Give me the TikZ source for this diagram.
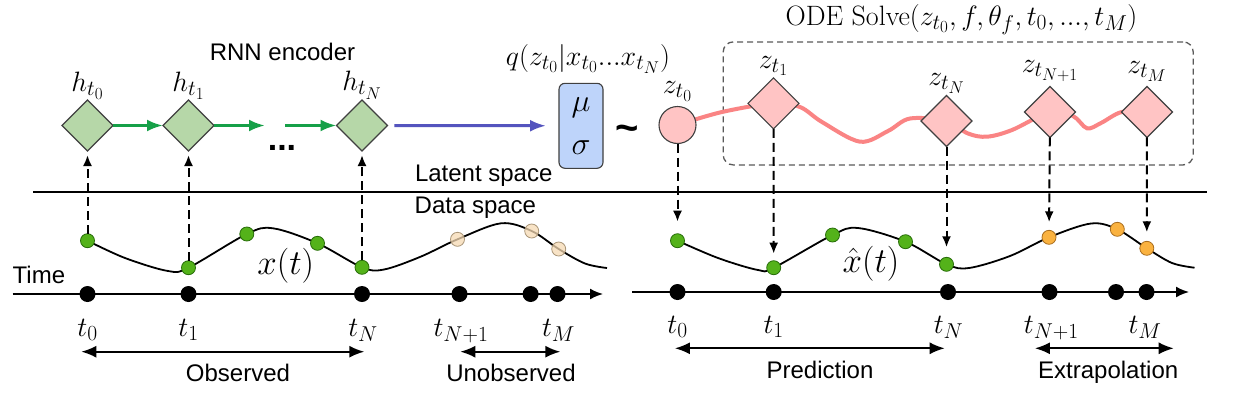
\RequirePackage{fix-cm}
\documentclass[tikz,border=0pt]{standalone}
\usepackage{fontspec}
\setsansfont{Liberation Sans}
\usetikzlibrary{shapes.geometric,arrows.meta}
\DeclareMathSizes{28}{28}{21.5}{17}
\DeclareMathSizes{35}{35}{26}{20}
\definecolor{hgreen}{RGB}{182,215,168}
\definecolor{zpink}{RGB}{255,196,196}
\definecolor{mboxc}{RGB}{190,212,250}
\definecolor{bordergray}{RGB}{64,64,64}
\definecolor{garr}{RGB}{22,160,72}
\definecolor{barr}{RGB}{84,84,190}
\definecolor{zline}{RGB}{250,132,132}
\definecolor{gdotc}{RGB}{84,178,26}
\definecolor{gdotb}{RGB}{40,110,10}
\definecolor{odotc}{RGB}{250,178,64}
\definecolor{odotb}{RGB}{170,110,30}
\definecolor{pdotc}{RGB}{246,218,180}
\definecolor{pdotb}{RGB}{170,150,120}
\definecolor{boxgray}{RGB}{90,90,90}
\begin{document}
\begin{tikzpicture}[x=1pt,y=-1pt,
  every node/.style={inner sep=0pt, outer sep=0pt},
  hdia/.style={diamond, aspect=1, minimum width=51pt, minimum height=51pt, fill=hgreen, draw=bordergray, line width=1.1pt},
  zdia/.style={diamond, aspect=1, minimum width=51pt, minimum height=51pt, fill=zpink, draw=bordergray, line width=1.1pt},
  zcirc/.style={circle, minimum size=37pt, fill=zpink, draw=bordergray, line width=1.1pt},
  mubox/.style={rectangle, rounded corners=6pt, minimum width=44pt, minimum height=85pt, fill=mboxc, draw=bordergray, line width=1.1pt, align=center, font=\fontsize{32}{43}\selectfont},
  gdot/.style={circle, minimum size=14pt, fill=gdotc, draw=gdotb, line width=0.8pt},
  pdot/.style={circle, minimum size=14pt, fill=pdotc, fill opacity=0.75, draw=pdotb, line width=0.8pt},
  odot/.style={circle, minimum size=14pt, fill=odotc, draw=odotb, line width=0.8pt},
  bdot/.style={circle, minimum size=16pt, fill=black},
  mlbl/.style={font=\fontsize{28}{32}\selectfont},
  biglbl/.style={font=\fontsize{35}{40}\selectfont},
  sflbl/.style={font=\fontsize{24}{28}\selectfont\sffamily},
  garrow/.style={draw=garr, line width=3pt, -{Latex[length=16pt,width=12pt]}},
  barrow/.style={draw=barr, line width=3pt, -{Latex[length=16pt,width=12pt]}},
  dasharrow/.style={draw=black, line width=2pt, dash pattern=on 9pt off 5pt, -{Latex[length=11pt,width=9pt]}},
  axisline/.style={draw=black, line width=1.8pt, -{Latex[length=13pt,width=11pt]}},
  spanarrow/.style={draw=black, line width=1.8pt, {Latex[length=15pt,width=12pt]}-{Latex[length=15pt,width=12pt]}},
  curveline/.style={draw=black, line width=1.8pt},
  zcurve/.style={draw=zline, line width=4pt},
  odebox/.style={rectangle, rounded corners=10pt, draw=boxgray, line width=1.3pt, dash pattern=on 6pt off 4pt, minimum width=470pt, minimum height=123pt}
]
\fill[white] (0,0) rectangle (1236,405);
\useasboundingbox (0,0) rectangle (1236,405);

% ---------- texts ----------
\node[sflbl, anchor=base] (rnn) at (282.5,60.7) {RNN encoder};
\node[sflbl, anchor=base west] (lat) at (415,181.7) {Latent space};
\node[sflbl, anchor=base west] (dat) at (414.7,213.3) {Data space};
\node[sflbl, anchor=base west] (time) at (12.7,283.3) {Time};

% ---------- latent / data separator ----------
\coordinate (ll) at (33,192);
\coordinate (lr) at (1207,192);
\draw[line width=1.8pt] (ll) -- (lr);

% ---------- encoder ----------
\node[hdia, label={[mlbl, inner sep=1pt]above:$h_{t_0}$}] (h0) at (87.5,125.5) {};
\node[hdia, label={[mlbl, inner sep=1pt]above:$h_{t_1}$}] (h1) at (188.5,125.5) {};
\node[hdia, label={[mlbl, inner sep=1pt]above:$h_{t_N}$}] (hN) at (362,125.5) {};
\coordinate (g1) at (265,125.5);
\coordinate (g2) at (285,125.5);
\draw[garrow] (h0) -- (h1);
\draw[garrow] (h1) -- (g1);
\draw[garrow] (g2) -- (hN);
\node[font=\fontsize{34}{40}\selectfont\sffamily\bfseries, anchor=base] (dots) at (282,150.7) {...};

% ---------- distribution ----------
\node[mubox] (mu) at (581,125.8) {$\mu$\\$\sigma$};
\draw[barrow, shorten <=7pt, shorten >=13pt] (hN) -- (mu);
\node[mlbl, anchor=base] (q) at (588,65) {$q(z_{t_0}|x_{t_0}...x_{t_N})$};
\node[font=\fontsize{40}{44}\selectfont\sffamily\bfseries, anchor=base] (tl) at (627.3,141) {\textasciitilde};

% ---------- ODE solve ----------
\node[odebox] (ode) at (958.2,103.4) {};
\node[mlbl, anchor=base] (odelbl) at (961.5,25) {ODE Solve$(z_{t_0},f,\theta_f,t_0,...,t_M)$};

\draw[zcurve] plot[smooth, tension=0.55] coordinates {(677.5,125) (722,112) (773.5,103.3) (800,107) (822,122) (860,141.7) (888,131) (910,118.5) (946,121) (968,133.5) (987,136.7) (1012,130) (1050,112) (1073,116) (1087,128.3) (1101,123) (1121.7,112) (1147,112)};

\node[zcirc, label={[mlbl, inner sep=1pt, label distance=4pt]above:$z_{t_0}$}] (z0) at (677.5,125) {};
\node[zdia, label={[mlbl, inner sep=1pt, label distance=1pt]above:$z_{t_1}$}] (z1) at (773.5,103.3) {};
\node[zdia, label={[mlbl, inner sep=1pt, label distance=1pt]above:$z_{t_N}$}] (zN) at (946.5,121) {};
\node[zdia, label={[mlbl, inner sep=1pt, label distance=4pt]above:$z_{t_{N+1}}$}] (zN1) at (1050,112) {};
\node[zdia, label={[mlbl, inner sep=1pt, label distance=4pt]above:$z_{t_M}$}] (zM) at (1147,112) {};

% ---------- left data panel ----------
\draw[curveline] plot[smooth, tension=0.55] coordinates {(87.5,240.7) (125,258) (168,271) (188.5,267.7) (246.8,234) (273,228.3) (317.5,243.3) (362,267.3) (384,269.5) (420.6,256.7) (457.5,239.3) (501,223.3) (531.7,231) (558.7,249) (585,263.5) (607,268)};
\node[gdot] (ld0) at (87.5,240.7) {};
\node[gdot] (ld1) at (188.5,267.7) {};
\node[gdot] (ld2) at (246.8,234) {};
\node[gdot] (ld3) at (317.5,243.3) {};
\node[gdot] (ld4) at (362,267.3) {};
\node[pdot] (pd1) at (457.5,239.3) {};
\node[pdot] (pd2) at (531.7,231) {};
\node[pdot] (pd3) at (558.7,249) {};
\node[biglbl, anchor=base] (xt) at (285.7,274) {$x(t)$};

\draw[dasharrow, shorten >=4pt] (ld0) -- (h0);
\draw[dasharrow, shorten >=4pt] (ld1) -- (h1);
\draw[dasharrow, shorten >=4pt] (ld4) -- (hN);

\coordinate (al) at (12.7,294);
\coordinate (ar) at (603,294);
\draw[axisline] (al) -- (ar);
\node[bdot] (lb0) at (87.5,294) {};
\node[bdot] (lb1) at (188.5,294) {};
\node[bdot] (lbN) at (362,294) {};
\node[bdot] (lbN1) at (459.5,294) {};
\node[bdot] (lbx) at (530.6,294) {};
\node[bdot] (lbM) at (557.5,294) {};
\node[mlbl, anchor=base] (lt0) at (87.5,336.7) {$t_0$};
\node[mlbl, anchor=base] (lt1) at (188.5,336.7) {$t_1$};
\node[mlbl, anchor=base] (ltN) at (363,336.7) {$t_N$};
\node[mlbl, anchor=base] (ltN1) at (461,336.7) {$t_{N+1}$};
\node[mlbl, anchor=base] (ltM) at (558.5,336.7) {$t_M$};

\coordinate (obsL) at (81.3,351.7);
\coordinate (obsR) at (364.3,351.7);
\draw[spanarrow] (obsL) -- (obsR);
\coordinate (unoL) at (460.3,351.7);
\coordinate (unoR) at (560.3,351.7);
\draw[spanarrow] (unoL) -- (unoR);
\node[sflbl, anchor=base] (obs) at (238,381.7) {Observed};
\node[sflbl, anchor=base] (uno) at (511,381.7) {Unobserved};

% ---------- right data panel ----------
\draw[curveline] plot[smooth, tension=0.55] coordinates {(677.5,240.7) (718,258) (758,270) (773.7,267.7) (832.5,235) (858,228) (905.5,241.7) (946.5,264.3) (969,268) (1010,256) (1049,237.3) (1091,223.5) (1117.3,229.3) (1146.8,248.3) (1172,263) (1194.5,267.7)};
\node[gdot] (rd0) at (677.5,240.7) {};
\node[gdot] (rd1) at (773.7,267.7) {};
\node[gdot] (rd2) at (832.5,235) {};
\node[gdot] (rd3) at (905.5,241.7) {};
\node[gdot] (rd4) at (946.5,264.3) {};
\node[odot] (od1) at (1049,237.3) {};
\node[odot] (od2) at (1117.3,229.3) {};
\node[odot] (od3) at (1146.8,248.3) {};
\node[biglbl, anchor=base] (xht) at (871,272.7) {$\hat{x}(t)$};

\draw[dasharrow, shorten >=12pt] (z0) -- (rd0);
\draw[dasharrow, shorten >=7pt] (z1) -- (rd1);
\draw[dasharrow, shorten >=10pt] (zN) -- (rd4);
\draw[dasharrow, shorten >=8pt] (zN1) -- (od1);
\draw[dasharrow, shorten >=9pt] (zM) -- (od3);

\coordinate (bl) at (632,292);
\coordinate (br) at (1189,292);
\draw[axisline] (bl) -- (br);
\node[bdot] (rb0) at (677.5,292) {};
\node[bdot] (rb1) at (773.7,292) {};
\node[bdot] (rbN) at (948,292) {};
\node[bdot] (rbN1) at (1049.5,292) {};
\node[bdot] (rbx) at (1116,292) {};
\node[bdot] (rbM) at (1146.5,292) {};
\node[mlbl, anchor=base] (rt0) at (677.5,333.3) {$t_0$};
\node[mlbl, anchor=base] (rt1) at (773.7,333.3) {$t_1$};
\node[mlbl, anchor=base] (rtN) at (948.5,333.3) {$t_N$};
\node[mlbl, anchor=base] (rtN1) at (1051.4,333.3) {$t_{N+1}$};
\node[mlbl, anchor=base] (rtM) at (1145,333.3) {$t_M$};

\coordinate (preL) at (674.9,348.3);
\coordinate (preR) at (944.7,348.3);
\draw[spanarrow] (preL) -- (preR);
\coordinate (extL) at (1034.9,348.3);
\coordinate (extR) at (1173.7,348.3);
\draw[spanarrow] (extL) -- (extR);
\node[sflbl, anchor=base] (pre) at (820,378.3) {Prediction};
\node[sflbl, anchor=base] (ext) at (1108.2,378.3) {Extrapolation};
\end{tikzpicture}
\end{document}
